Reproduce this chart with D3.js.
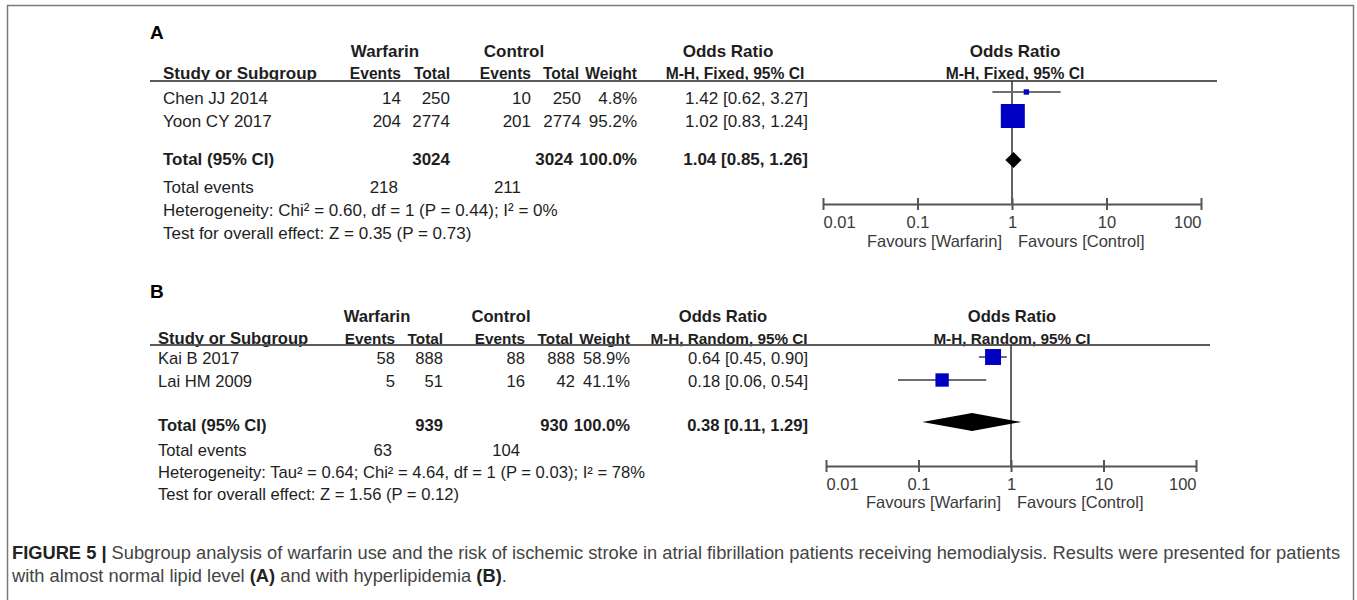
<!DOCTYPE html>
<html>
<head>
<meta charset="utf-8">
<script src="https://cdn.jsdelivr.net/npm/d3@7"></script>
<style>
body { margin: 0; background: #fff; }
text { font-family: "Liberation Sans", Arial, sans-serif; }
</style>
</head>
<body>
<svg id="fig" width="1357" height="600"></svg>
<script>
// ---- panel A : almost normal lipid level
const studiesA = ["Chen JJ 2014", "Yoon CY 2017"];
const warfEventsA = [14, 204];
const warfTotalA = [250, 2774];
const ctrlEventsA = [10, 201];
const ctrlTotalA = [250, 2774];
const weightA = [4.8, 95.2];
const orA = [1.42, 1.02];
const loA = [0.62, 0.83];
const hiA = [3.27, 1.24];
const pooledA = [1.04, 0.85, 1.26];
const totalsA = [3024, 3024];
const totEventsA = [218, 211];
const methodA = "M-H, Fixed, 95% CI";
const hetA = "Heterogeneity: Chi² = 0.60, df = 1 (P = 0.44); I² = 0%";
const testA = "Test for overall effect: Z = 0.35 (P = 0.73)";

// ---- panel B : hyperlipidemia
const studiesB = ["Kai B 2017", "Lai HM 2009"];
const warfEventsB = [58, 5];
const warfTotalB = [888, 51];
const ctrlEventsB = [88, 16];
const ctrlTotalB = [888, 42];
const weightB = [58.9, 41.1];
const orB = [0.64, 0.18];
const loB = [0.45, 0.06];
const hiB = [0.90, 0.54];
const pooledB = [0.38, 0.11, 1.29];
const totalsB = [939, 930];
const totEventsB = [63, 104];
const methodB = "M-H, Random, 95% CI";
const hetB = "Heterogeneity: Tau² = 0.64; Chi² = 4.64, df = 1 (P = 0.03); I² = 78%";
const testB = "Test for overall effect: Z = 1.56 (P = 0.12)";

const ticks = [0.01, 0.1, 1, 10, 100];
const tickLabels = ["0.01", "0.1", "1", "10", "100"];

const svg = d3.select("#fig");
const fmt = v => v.toFixed(2);
const ciText = (o, l, h) => fmt(o) + " [" + fmt(l) + ", " + fmt(h) + "]";

svg.append("rect")
  .attr("x", 7.5).attr("y", 5.5).attr("width", 1346).attr("height", 700)
  .attr("fill", "none").attr("stroke", "#7a7a7a").attr("stroke-width", 1.5);

function txt(g, x, y, s, anchor, bold, size, col){
  return g.append("text")
    .attr("x", x).attr("y", y)
    .attr("text-anchor", anchor || "start")
    .attr("font-weight", bold ? "bold" : "normal")
    .attr("font-size", size)
    .attr("fill", col || "#1e1e1e")
    .text(s);
}

function drawPanel(d, L){
  var g = svg.append("g");
  var c = L.cols;   // right edges of the numeric columns
  var fs = L.fs, hs = L.hs;
  txt(g, 150, L.label, d.label, "start", true, 19, "#000");

  // headers
  txt(g, L.hWarf, L.h1, "Warfarin", "middle", true, fs);
  txt(g, L.hCtrl, L.h1, "Control", "middle", true, fs);
  txt(g, L.hOR, L.h1, "Odds Ratio", "middle", true, fs);
  txt(g, L.hPlot, L.h1, "Odds Ratio", "middle", true, fs);
  txt(g, L.name, L.h2, "Study or Subgroup", "start", true, fs);
  txt(g, c[0], L.h2, "Events", "end", true, hs);
  txt(g, c[1], L.h2, "Total", "end", true, hs);
  txt(g, c[2], L.h2, "Events", "end", true, hs);
  txt(g, c[3] - 2, L.h2, "Total", "end", true, hs);
  txt(g, c[4], L.h2, "Weight", "end", true, hs);
  txt(g, L.hOR2, L.h2, d.method, "middle", true, hs);
  txt(g, L.hPlot, L.h2, d.method, "middle", true, hs);

  g.append("line")
    .attr("x1", 150).attr("x2", L.lineEnd)
    .attr("y1", L.line).attr("y2", L.line)
    .attr("stroke", "#5a5a5a").attr("stroke-width", 2);

  // study rows
  for(var i = 0; i < d.studies.length; i++){
    var y = L.rows[i];
    txt(g, L.name, y, d.studies[i], "start", false, fs);
    txt(g, c[0], y, d.wE[i], "end", false, fs);
    txt(g, c[1], y, d.wT[i], "end", false, fs);
    txt(g, c[2], y, d.cE[i], "end", false, fs);
    txt(g, c[3], y, d.cT[i], "end", false, fs);
    txt(g, c[4], y, d.w[i].toFixed(1) + "%", "end", false, fs);
    txt(g, c[5], y, ciText(d.or[i], d.lo[i], d.hi[i]), "end", false, fs);
  }

  // totals
  txt(g, L.name, L.total, "Total (95% CI)", "start", true, fs);
  txt(g, c[1], L.total, d.totals[0], "end", true, fs);
  txt(g, L.totCtrl, L.total, d.totals[1], "end", true, fs);
  txt(g, c[4], L.total, "100.0%", "end", true, fs);
  txt(g, c[5], L.total, ciText(d.pooled[0], d.pooled[1], d.pooled[2]), "end", true, fs);
  txt(g, L.name, L.events, "Total events", "start", false, fs);
  txt(g, L.ev[0], L.events, d.totEv[0], "end", false, fs);
  txt(g, L.ev[1], L.events, d.totEv[1], "end", false, fs);
  txt(g, L.name, L.het, d.het, "start", false, fs);
  txt(g, L.name, L.test, d.test, "start", false, fs);

  // forest plot
  var x = d3.scaleLog().domain([0.01, 100]).range(L.plot);
  var size = d3.scaleSqrt().domain([0, 100]).range([0, L.maxBox]);

  g.append("line")
    .attr("x1", x(1)).attr("x2", x(1))
    .attr("y1", L.line).attr("y2", L.axis)
    .attr("stroke", "#3c3c3c").attr("stroke-width", 1.6);

  for(var i = 0; i < d.studies.length; i++){
    var my = L.marks[i];
    g.append("line")
      .attr("x1", x(d.lo[i])).attr("x2", x(d.hi[i]))
      .attr("y1", my).attr("y2", my)
      .attr("stroke", "#6e6e6e").attr("stroke-width", 2);
    var s = size(d.w[i]);
    g.append("rect")
      .attr("x", x(d.or[i]) - s / 2).attr("y", my - s / 2)
      .attr("width", s).attr("height", s)
      .attr("fill", "#0000c4");
  }

  var dy = L.diamond, hh = L.diaH;
  g.append("path")
    .attr("d", "M" + x(d.pooled[1]) + "," + dy +
               "L" + x(d.pooled[0]) + "," + (dy - hh) +
               "L" + x(d.pooled[2]) + "," + dy +
               "L" + x(d.pooled[0]) + "," + (dy + hh) + "Z")
    .attr("fill", "#000");

  var axis = d3.axisBottom(x)
    .tickValues(ticks)
    .tickFormat((v, k) => tickLabels[k])
    .tickSizeOuter(0);
  var ga = g.append("g").attr("transform", "translate(0," + L.axis + ")").call(axis);
  ga.select(".domain").attr("stroke", "#555").attr("stroke-width", 2);
  ga.selectAll(".tick line").attr("y1", -6).attr("y2", 6)
    .attr("stroke", "#555").attr("stroke-width", 2);
  ga.selectAll(".tick text")
    .attr("y", 12).attr("dy", "0.71em")
    .attr("font-size", 16.5).attr("fill", "#3a3a3a")
    .attr("font-family", "Liberation Sans, Arial, sans-serif")
    .attr("text-anchor", (v, k) => k == 0 ? "start" : (k == ticks.length - 1 ? "end" : "middle"));

  txt(g, x(1) - 10, L.fav, "Favours [Warfarin]", "end", false, 16.5, "#3a3a3a");
  txt(g, x(1) + 6, L.fav, "Favours [Control]", "start", false, 16.5, "#3a3a3a");
}

drawPanel({
  label: "A", studies: studiesA, wE: warfEventsA, wT: warfTotalA, cE: ctrlEventsA, cT: ctrlTotalA,
  w: weightA, or: orA, lo: loA, hi: hiA, pooled: pooledA, totals: totalsA, totEv: totEventsA,
  method: methodA, het: hetA, test: testA
}, {
  fs: 17, hs: 15.6,
  label: 39, h1: 57, h2: 79, line: 81, rows: [104, 127], total: 165, events: 193, het: 216, test: 239,
  marks: [92, 116], diamond: 160, diaH: 8, maxBox: 24.6,
  name: 163, cols: [401, 450, 531, 581, 637, 808], ev: [398, 521], totCtrl: 573,
  hWarf: 385, hCtrl: 514, hOR: 728, hOR2: 735, hPlot: 1015, lineEnd: 1217,
  plot: [823, 1201], axis: 204, fav: 247
});

drawPanel({
  label: "B", studies: studiesB, wE: warfEventsB, wT: warfTotalB, cE: ctrlEventsB, cT: ctrlTotalB,
  w: weightB, or: orB, lo: loB, hi: hiB, pooled: pooledB, totals: totalsB, totEv: totEventsB,
  method: methodB, het: hetB, test: testB
}, {
  fs: 16.6, hs: 15.3,
  label: 298, h1: 322, h2: 344, line: 345, rows: [364, 387], total: 431, events: 456, het: 478, test: 500,
  marks: [357, 380], diamond: 422, diaH: 9, maxBox: 20.8,
  name: 158, cols: [395, 443, 525, 575, 630, 808], ev: [392, 520], totCtrl: 568,
  hWarf: 377, hCtrl: 501, hOR: 723, hOR2: 729, hPlot: 1012, lineEnd: 1210,
  plot: [826, 1196], axis: 466, fav: 508
});

// caption
var cap = svg.append("text").attr("font-size", 18.3).attr("fill", "#444");
cap.append("tspan").attr("x", 12).attr("y", 559).attr("font-weight", "bold").attr("fill", "#222").text("FIGURE 5 |");
cap.append("tspan").text(" Subgroup analysis of warfarin use and the risk of ischemic stroke in atrial fibrillation patients receiving hemodialysis. Results were presented for patients");
var cap2 = svg.append("text").attr("font-size", 18.3).attr("fill", "#444");
cap2.append("tspan").attr("x", 12).attr("y", 582).text("with almost normal lipid level ");
cap2.append("tspan").attr("font-weight", "bold").attr("fill", "#222").text("(A)");
cap2.append("tspan").text(" and with hyperlipidemia ");
cap2.append("tspan").attr("font-weight", "bold").attr("fill", "#222").text("(B)");
cap2.append("tspan").text(".");
</script>
</body>
</html>
